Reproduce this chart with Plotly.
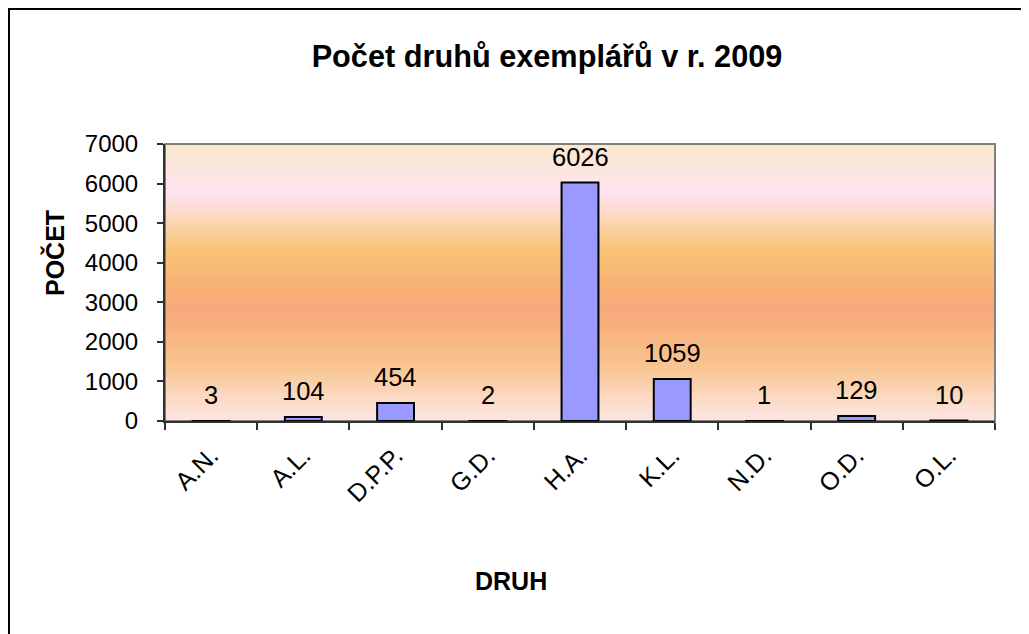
import plotly.graph_objects as go

categories = ["A.N.", "A.L.", "D.P.P.", "G.D.", "H.A.", "K.L.", "N.D.", "O.D.", "O.L."]
counts = [3, 104, 454, 2, 6026, 1059, 1, 129, 10]
y_ticks = [0, 1000, 2000, 3000, 4000, 5000, 6000, 7000]

OFF = 8  # default body margin of the html page
W, H = 1029 - OFF, 634 - OFF
# plot area in page pixels
L, R, T, B = 165, 995, 144, 421
FONT = "Arial, Liberation Sans, sans-serif"

def px_x(p):
    return (p - L) / (R - L)

def px_y(p):
    return (B - p) / (B - T)

fig = go.Figure()
fig.add_trace(go.Bar(
    x=categories, y=counts,
    marker=dict(color="#9999FF", line=dict(color="black", width=2)),
    hoverinfo="x+y",
))

# gradient background stops (fraction from top, colour)
stops = [(0.0, (250, 232, 205)), (0.18, (253, 228, 240)), (0.38, (248, 196, 118)),
         (0.60, (248, 166, 118)), (0.80, (248, 197, 143)), (1.0, (253, 230, 230))]

def col_at(f):
    for (f0, c0), (f1, c1) in zip(stops[:-1], stops[1:]):
        if f0 <= f <= f1:
            t = (f - f0) / (f1 - f0)
            return "rgb(%d,%d,%d)" % tuple(round(a + (b - a) * t) for a, b in zip(c0, c1))
    return "rgb(%d,%d,%d)" % stops[-1][1]

shapes = []
N = 140
for i in range(N):
    f0, f1 = i / N, (i + 1) / N
    shapes.append(dict(type="rect", xref="paper", yref="paper", x0=0, x1=1,
                       y0=max(0, 1 - f1 - 0.002), y1=1 - f0, fillcolor=col_at((f0 + f1) / 2),
                       line=dict(width=0), layer="below"))
# plot area border (grey)
shapes.append(dict(type="rect", xref="paper", yref="paper", x0=0, x1=1, y0=0, y1=1,
                   line=dict(color="#808080", width=2), layer="below"))
# outer chart border
shapes.append(dict(type="rect", xref="paper", yref="paper", x0=px_x(9), x1=px_x(1045),
                   y0=px_y(650), y1=px_y(9), line=dict(color="black", width=2)))

annotations = []
for c, v in zip(categories, counts):
    annotations.append(dict(x=c, y=v, xref="x", yref="y", text=str(v), showarrow=False,
                            xanchor="center", yanchor="bottom", yshift=10,
                            font=dict(size=25.5, color="black", family=FONT)))
annotations.append(dict(x=px_x(54), y=px_y(253), xref="paper", yref="paper", text="<b>POČET</b>",
                        textangle=-90, showarrow=False, xanchor="center", yanchor="middle",
                        font=dict(size=25, color="black", family=FONT)))
annotations.append(dict(x=px_x(511), y=px_y(581), xref="paper", yref="paper", text="<b>DRUH</b>",
                        showarrow=False, xanchor="center", yanchor="middle",
                        font=dict(size=25, color="black", family=FONT)))

fig.update_layout(
    width=W, height=H,
    margin=dict(l=L - OFF, r=W - (R - OFF), t=T - OFF, b=H - (B - OFF)),
    paper_bgcolor="white", plot_bgcolor="white",
    title=dict(text="<b>Počet druhů exemplářů v r. 2009</b>", xref="container", yref="container",
               x=(547 - OFF) / W, y=1 - (56 - OFF) / H, xanchor="center", yanchor="middle",
               font=dict(size=30.7, color="black", family=FONT)),
    bargap=0.6,
    showlegend=False,
    shapes=shapes,
    annotations=annotations,
    font=dict(family=FONT, color="black"),
)
fig.update_xaxes(showgrid=False, showline=True, linecolor="#303030", linewidth=2,
                 ticks="outside", ticklen=7, tickcolor="#303030", tickwidth=2,
                 tickson="boundaries", tickangle=-45, tickfont=dict(size=25, family=FONT),
                 ticklabelstandoff=8)
fig.update_yaxes(range=[0, 7000], tickvals=y_ticks, showgrid=False, zeroline=False,
                 showline=True, linecolor="#303030", linewidth=2,
                 ticks="outside", ticklen=6, tickcolor="#303030", tickwidth=2,
                 tickfont=dict(size=24, family=FONT), ticklabelstandoff=14)

fig.write_html("out.html")
